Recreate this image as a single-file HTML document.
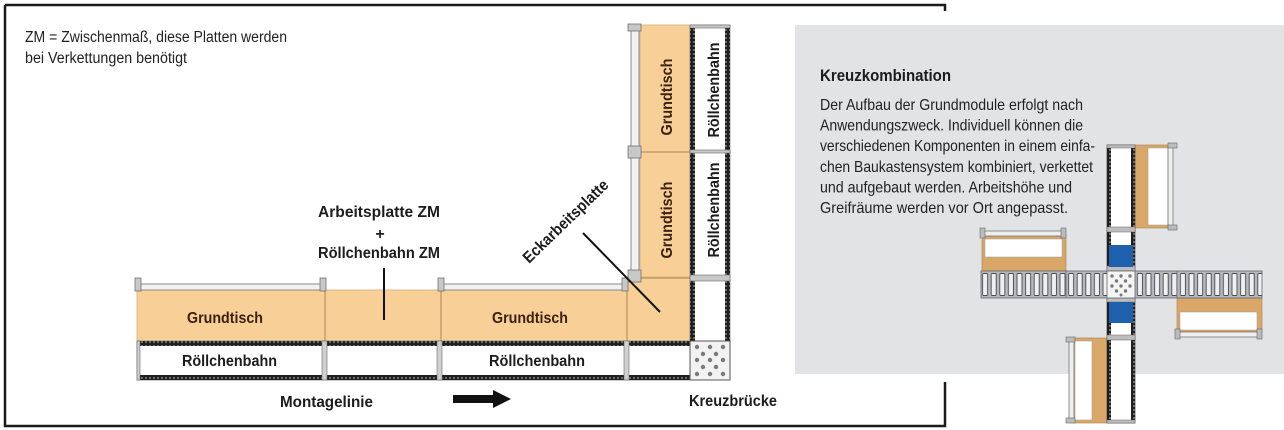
<!DOCTYPE html>
<html><head><meta charset="utf-8"><style>
html,body{margin:0;padding:0;background:#fff;}
svg{display:block;}
text{font-family:"Liberation Sans",sans-serif;}
</style></head><body>
<svg width="1284" height="430" viewBox="0 0 1284 430" xmlns="http://www.w3.org/2000/svg">
<defs>
<pattern id="dot" width="4" height="4" patternUnits="userSpaceOnUse"><rect width="4" height="4" fill="#1f1f1f"/><rect x="1.2" y="1.2" width="1.6" height="1.6" fill="#9a9a9a"/></pattern>
<pattern id="rol" x="981" y="271" width="8.6" height="27" patternUnits="userSpaceOnUse"><rect width="8.6" height="27" fill="#b5b8be"/><rect x="1.6" y="2.5" width="5" height="22" rx="1" fill="#eef0f2" stroke="#4a4a4a" stroke-width="0.9"/></pattern>
</defs>

<!-- frame -->
<rect x="795" y="25" width="489" height="349" fill="#e2e3e5"/>
<path d="M5,5 H945 V11" fill="none" stroke="#1a1a1a" stroke-width="2.5"/>
<path d="M5,5 V426 H945 V382" fill="none" stroke="#1a1a1a" stroke-width="2.5"/>

<!-- top-left note -->
<text x="25" y="42" font-size="15.5" textLength="262" lengthAdjust="spacingAndGlyphs" fill="#222">ZM = Zwischenmaß, diese Platten werden</text>
<text x="25" y="63" font-size="15.5" textLength="162" lengthAdjust="spacingAndGlyphs" fill="#222">bei Verkettungen benötigt</text>

<!-- orange tables -->
<g fill="#f8cf96" stroke="#d2ad7a" stroke-width="0.8">
<rect x="137" y="290" width="490" height="51"/>
<rect x="640" y="25" width="50" height="253"/>
<rect x="627" y="277" width="63" height="64"/>
</g>
<g stroke="#b8935f" stroke-width="1.2">
<line x1="325" y1="290" x2="325" y2="341"/>
<line x1="441" y1="290" x2="441" y2="341"/>
<line x1="627" y1="280" x2="627" y2="341"/>
<line x1="640" y1="152" x2="690" y2="152"/>
<line x1="630" y1="278" x2="690" y2="278"/>
</g>

<!-- rails -->
<g fill="#f2f2f2" stroke="#8a8a8a" stroke-width="1">
<rect x="139" y="284" width="184" height="6"/>
<rect x="443" y="284" width="182" height="6"/>
<rect x="631" y="26" width="8" height="251"/>
</g>
<g fill="#c8c8c8" stroke="#707070" stroke-width="0.8">
<rect x="135" y="278" width="6" height="13"/>
<rect x="320" y="278" width="6" height="13"/>
<rect x="438" y="278" width="6" height="13"/>
<rect x="622" y="278" width="6" height="13"/>
<rect x="628" y="24" width="13" height="7"/>
<rect x="628" y="146" width="13" height="12"/>
<rect x="628" y="270" width="13" height="12"/>
</g>

<!-- horizontal roller row -->
<g>
<rect x="137" y="341" width="553" height="39" fill="#fff" stroke="#888" stroke-width="0.8"/>
<rect x="137" y="341" width="553" height="5" fill="url(#dot)"/>
<rect x="137" y="375" width="553" height="5" fill="url(#dot)"/>
<g fill="#d0d0d0" stroke="#666" stroke-width="0.6">
<rect x="137" y="341" width="3" height="39"/>
<rect x="322" y="341" width="5" height="39"/>
<rect x="437" y="341" width="5" height="39"/>
<rect x="624" y="341" width="5" height="39"/>
</g>
</g>

<!-- vertical roller column -->
<rect x="690" y="25" width="40" height="316" fill="#fff" stroke="#888" stroke-width="0.8"/>
<rect x="690" y="25" width="5" height="316" fill="url(#dot)"/>
<rect x="725" y="25" width="5" height="316" fill="url(#dot)"/>
<g fill="#c8c8c8" stroke="#666" stroke-width="0.6">
<rect x="690" y="25" width="40" height="3"/>
<rect x="690" y="150" width="40" height="3"/>
<rect x="690" y="275" width="40" height="6"/>
</g>

<!-- Kreuzbrücke -->
<rect x="690" y="341" width="40" height="39" fill="#f2f2f2" stroke="#555" stroke-width="1"/>
<g fill="#7a7a7a">
<circle cx="697" cy="347" r="2.2"/><circle cx="710" cy="347" r="2.2"/><circle cx="723" cy="347" r="2.2"/>
<circle cx="703" cy="354" r="2.2"/><circle cx="716" cy="354" r="2.2"/>
<circle cx="697" cy="360" r="2.2"/><circle cx="710" cy="360" r="2.2"/><circle cx="723" cy="360" r="2.2"/>
<circle cx="703" cy="367" r="2.2"/><circle cx="716" cy="367" r="2.2"/>
<circle cx="697" cy="374" r="2.2"/><circle cx="710" cy="374" r="2.2"/><circle cx="723" cy="374" r="2.2"/>
</g>

<!-- labels main -->
<g font-weight="bold" font-size="16">
<text x="187" y="323" textLength="76" lengthAdjust="spacingAndGlyphs" fill="#3a2210">Grundtisch</text>
<text x="492" y="323" textLength="76" lengthAdjust="spacingAndGlyphs" fill="#3a2210">Grundtisch</text>
<text x="182" y="366" textLength="95" lengthAdjust="spacingAndGlyphs" fill="#1c1c1c">Röllchenbahn</text>
<text x="489" y="366" textLength="96" lengthAdjust="spacingAndGlyphs" fill="#1c1c1c">Röllchenbahn</text>
<text x="280" y="407" textLength="93" lengthAdjust="spacingAndGlyphs" fill="#1c1c1c">Montagelinie</text>
<text x="689" y="406" textLength="88" lengthAdjust="spacingAndGlyphs" fill="#1c1c1c">Kreuzbrücke</text>
<text x="318" y="217" textLength="122" lengthAdjust="spacingAndGlyphs" fill="#1c1c1c">Arbeitsplatte ZM</text>
<text x="380" y="239" text-anchor="middle" fill="#1c1c1c">+</text>
<text x="318" y="258" textLength="122" lengthAdjust="spacingAndGlyphs" fill="#1c1c1c">Röllchenbahn ZM</text>
<text transform="translate(529,264) rotate(-44)" x="0" y="0" textLength="112" lengthAdjust="spacingAndGlyphs" fill="#1c1c1c">Eckarbeitsplatte</text>
<text transform="translate(672,97) rotate(-90)" text-anchor="middle" textLength="77" lengthAdjust="spacingAndGlyphs" fill="#3a2210">Grundtisch</text>
<text transform="translate(672,220) rotate(-90)" text-anchor="middle" textLength="77" lengthAdjust="spacingAndGlyphs" fill="#3a2210">Grundtisch</text>
<text transform="translate(719,90) rotate(-90)" text-anchor="middle" textLength="95" lengthAdjust="spacingAndGlyphs" fill="#1c1c1c">Röllchenbahn</text>
<text transform="translate(719,210) rotate(-90)" text-anchor="middle" textLength="95" lengthAdjust="spacingAndGlyphs" fill="#1c1c1c">Röllchenbahn</text>
</g>

<!-- pointer lines and arrow -->
<line x1="384" y1="268" x2="384" y2="320" stroke="#111" stroke-width="2"/>
<line x1="583" y1="233" x2="660" y2="312" stroke="#111" stroke-width="2"/>
<path d="M453,395 H493 V390 L511,399 L493,408 V403 H453 Z" fill="#111"/>

<!-- right panel text -->
<text x="820" y="81" font-size="16.5" font-weight="bold" textLength="131" lengthAdjust="spacingAndGlyphs" fill="#1c1c1c">Kreuzkombination</text>
<g font-size="16" fill="#222">
<text x="820" y="110" textLength="263" lengthAdjust="spacingAndGlyphs">Der Aufbau der Grundmodule erfolgt nach</text>
<text x="820" y="130.6" textLength="263" lengthAdjust="spacingAndGlyphs">Anwendungszweck. Individuell können die</text>
<text x="820" y="151.2" textLength="275" lengthAdjust="spacingAndGlyphs">verschiedenen Komponenten in einem einfa-</text>
<text x="820" y="171.8" textLength="273" lengthAdjust="spacingAndGlyphs">chen Baukastensystem kombiniert, verkettet</text>
<text x="820" y="192.4" textLength="252" lengthAdjust="spacingAndGlyphs">und aufgebaut werden. Arbeitshöhe und</text>
<text x="820" y="213" textLength="248" lengthAdjust="spacingAndGlyphs">Greifräume werden vor Ort angepasst.</text>
</g>

<!-- cross combination -->
<g>
<rect x="982" y="236" width="84" height="35" fill="#d9a767" stroke="#a88050" stroke-width="0.6"/>
<rect x="985" y="239" width="77" height="18" fill="#fff" stroke="#999" stroke-width="0.5"/>
<rect x="983" y="231" width="80" height="5" fill="#eee" stroke="#777" stroke-width="0.8"/>
<rect x="980" y="228" width="5" height="10" fill="#bbb" stroke="#666" stroke-width="0.6"/>
<rect x="1061" y="228" width="5" height="10" fill="#bbb" stroke="#666" stroke-width="0.6"/>

<rect x="1135" y="145" width="36" height="83" fill="#d9a767" stroke="#a88050" stroke-width="0.6"/>
<rect x="1148" y="148" width="20" height="77" fill="#fff" stroke="#999" stroke-width="0.5"/>
<rect x="1168" y="146" width="5" height="81" fill="#eee" stroke="#777" stroke-width="0.8"/>
<rect x="1168" y="143" width="9" height="5" fill="#bbb" stroke="#666" stroke-width="0.6"/>
<rect x="1168" y="225" width="9" height="5" fill="#bbb" stroke="#666" stroke-width="0.6"/>

<rect x="1177" y="298" width="85" height="34" fill="#d9a767" stroke="#a88050" stroke-width="0.6"/>
<rect x="1180" y="312" width="77" height="18" fill="#fff" stroke="#999" stroke-width="0.5"/>
<rect x="1178" y="332" width="83" height="5" fill="#eee" stroke="#777" stroke-width="0.8"/>
<rect x="1175" y="329" width="5" height="10" fill="#bbb" stroke="#666" stroke-width="0.6"/>
<rect x="1257" y="329" width="5" height="10" fill="#bbb" stroke="#666" stroke-width="0.6"/>

<rect x="1071" y="338" width="36" height="85" fill="#d9a767" stroke="#a88050" stroke-width="0.6"/>
<rect x="1075" y="341" width="17" height="79" fill="#fff" stroke="#999" stroke-width="0.5"/>
<rect x="1069" y="339" width="5" height="83" fill="#eee" stroke="#777" stroke-width="0.8"/>
<rect x="1066" y="337" width="9" height="5" fill="#bbb" stroke="#666" stroke-width="0.6"/>
<rect x="1066" y="418" width="9" height="5" fill="#bbb" stroke="#666" stroke-width="0.6"/>

<rect x="1107" y="145" width="28" height="278" fill="#fff" stroke="#555" stroke-width="0.8"/>
<rect x="1107" y="145" width="4" height="278" fill="url(#dot)"/>
<rect x="1131" y="145" width="4" height="278" fill="url(#dot)"/>
<g fill="#bdbdbd" stroke="#666" stroke-width="0.5">
<rect x="1107" y="145" width="28" height="3"/>
<rect x="1107" y="227" width="28" height="5"/>
<rect x="1107" y="266" width="28" height="5"/>
<rect x="1107" y="298" width="28" height="4"/>
<rect x="1107" y="335" width="28" height="5"/>
<rect x="1107" y="420" width="28" height="3"/>
</g>
<rect x="1109" y="245" width="24" height="22" fill="#1e5fae"/>
<rect x="1109" y="302" width="24" height="21" fill="#1e5fae"/>

<rect x="981" y="271" width="281" height="27" fill="url(#rol)" stroke="#666" stroke-width="0.8"/>
<line x1="1066" y1="271" x2="1066" y2="298" stroke="#777" stroke-width="1"/>
<line x1="1177" y1="271" x2="1177" y2="298" stroke="#777" stroke-width="1"/>
<rect x="1107" y="271" width="28" height="27" fill="#f4f4f4" stroke="#666" stroke-width="0.8"/>
<g fill="#7a7a7a">
<circle cx="1112" cy="276" r="1.7"/><circle cx="1121" cy="276" r="1.7"/><circle cx="1130" cy="276" r="1.7"/>
<circle cx="1116.5" cy="281" r="1.7"/><circle cx="1125.5" cy="281" r="1.7"/>
<circle cx="1112" cy="286" r="1.7"/><circle cx="1121" cy="286" r="1.7"/><circle cx="1130" cy="286" r="1.7"/>
<circle cx="1116.5" cy="291" r="1.7"/><circle cx="1125.5" cy="291" r="1.7"/>
<circle cx="1121" cy="295" r="1.5"/>
</g>
</g>
</svg>
</body></html>
